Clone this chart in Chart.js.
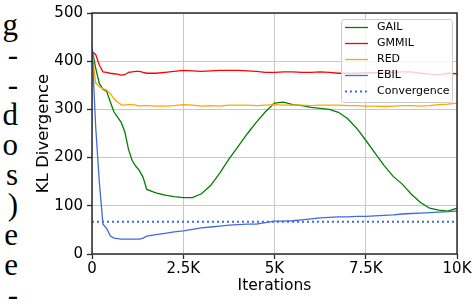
<!DOCTYPE html>
<html>
<head>
<meta charset="utf-8">
<script src="https://cdn.jsdelivr.net/npm/chart.js@4"></script>
<style>
  body { margin: 0; background: #fff; }
  #wrap { position: relative; width: 474px; height: 308px; overflow: hidden; }
  #margem { position: absolute; left: -22px; top: 10px; width: 40px; text-align: right;
            font-family: "Liberation Serif", serif; font-size: 31px; line-height: 30px; color: #000; }
  canvas { position: absolute; left: 0; top: 0; }
</style>
</head>
<body>
<div id="wrap">
  <div id="margem"></div>
  <canvas id="grafico-kl" width="474" height="308"></canvas>
</div>
<script>
// Texto cortado da página à esquerda
const textoMargem = ['g', '-', '-', 'd', 'o', 's', ')', 'e', 'e', '-'];

// Dados do gráfico
const iteracoes = [0, 100, 200, 300, 400, 500, 600, 700, 800, 900, 1000, 1100, 1200, 1300, 1400, 1500,
  1750, 2000, 2250, 2500, 2750, 3000, 3250, 3500, 3750, 4000, 4250, 4500, 4750, 5000, 5250, 5500,
  5750, 6000, 6250, 6500, 6750, 7000, 7250, 7500, 7750, 8000, 8250, 8500, 8750, 9000, 9250, 9500,
  9750, 10000];
const gail = [425, 386, 354, 342, 338, 316, 295, 284, 273, 253, 217, 194, 182, 173, 159, 134,
  127, 122, 119, 117, 117, 125, 142, 168, 197, 223, 249, 273, 295, 313, 315, 310,
  308, 304, 302, 300, 294, 281, 261, 236, 210, 184, 161, 145, 124, 107, 95, 91,
  89, 95];
const gmmil = [420, 414, 392, 378, 377, 375, 374, 373, 371, 372, 377, 378, 379, 379, 377, 375,
  375, 377, 379, 381, 380, 379, 380, 381, 381, 381, 380, 379, 377, 377, 378, 378,
  377, 377, 378, 377, 375, 375, 375, 376, 376, 377, 377, 378, 378, 375, 373, 372,
  375, 374];
const red = [420, 355, 347, 343, 340, 333, 322, 315, 310, 309, 310, 310, 309, 307, 308, 308,
  307, 307, 308, 310, 309, 307, 308, 307, 309, 309, 309, 308, 309, 310, 309, 309,
  309, 308, 309, 309, 309, 308, 308, 307, 307, 306, 307, 308, 308, 307, 308, 310,
  311, 313];
const ebil = [430, 265, 150, 62, 53, 38, 33, 32, 31, 31, 31, 31, 31, 31, 33, 37,
  40, 43, 46, 48, 51, 54, 56, 58, 60, 61, 62, 62, 65, 68, 68, 69,
  71, 73, 75, 76, 77, 77, 78, 78, 79, 80, 81, 83, 84, 85, 86, 87,
  88, 89];
const convergenciaX = [0, 10000];
const convergencia = [67, 67];
const ticksX = [0, 2500, 5000, 7500, 10000];
const rotulosX = ['0', '2.5K', '5K', '7.5K', '10K'];

document.getElementById('margem').innerHTML = textoMargem.map(t => `<div>${t}</div>`).join('');

const pontos = (xs, ys) => xs.map((x, i) => ({ x: x, y: ys[i] }));

const serie = (label, xs, ys, cor, ordem) => ({
  label: label,
  data: pontos(xs, ys),
  borderColor: cor,
  backgroundColor: cor,
  borderWidth: 1.3,
  pointRadius: 0,
  tension: 0,
  order: ordem
});

// Moldura e legenda desenhadas à maneira do matplotlib
const molduraLegenda = {
  id: 'molduraLegenda',
  afterDatasetsDraw(chart) {
    const { ctx, chartArea: a } = chart;
    ctx.save();
    ctx.strokeStyle = '#2b2b2b';
    ctx.lineWidth = 1.5;
    ctx.strokeRect(a.left, a.top, a.right - a.left, a.bottom - a.top);

    const w = 111, h = 83;
    const lx = a.right - 5 - w, ly = a.top + 6;
    ctx.beginPath();
    ctx.roundRect(lx + 0.5, ly + 0.5, w, h, 3);
    ctx.fillStyle = 'rgba(255,255,255,0.8)';
    ctx.fill();
    ctx.strokeStyle = '#cccccc';
    ctx.lineWidth = 1;
    ctx.stroke();

    ctx.font = '11px "DejaVu Sans"';
    ctx.textBaseline = 'middle';
    ctx.textAlign = 'left';
    chart.data.datasets.forEach((ds, i) => {
      const y = ly + 8.5 + i * 16;
      ctx.beginPath();
      ctx.setLineDash(ds.borderDash || []);
      ctx.lineWidth = ds.borderWidth;
      ctx.strokeStyle = ds.borderColor;
      ctx.moveTo(lx + 4, y);
      ctx.lineTo(lx + 27, y);
      ctx.stroke();
      ctx.setLineDash([]);
      ctx.fillStyle = '#000';
      ctx.fillText(ds.label, lx + 36, y);
    });
    ctx.restore();
  }
};

const conv = serie('Convergence', convergenciaX, convergencia, '#4169e1', 1);
conv.borderWidth = 2;
conv.borderDash = [2, 3];

new Chart(document.getElementById('grafico-kl'), {
  type: 'line',
  data: {
    datasets: [
      serie('GAIL', iteracoes, gail, '#008000', 5),
      serie('GMMIL', iteracoes, gmmil, '#ff0000', 4),
      serie('RED', iteracoes, red, '#ffa500', 3),
      serie('EBIL', iteracoes, ebil, '#4169e1', 2),
      conv
    ]
  },
  options: {
    responsive: false,
    devicePixelRatio: 1,
    animation: false,
    layout: { padding: { left: 0, top: 11, right: 17, bottom: 0 } },
    plugins: { legend: { display: false }, tooltip: { enabled: false } },
    scales: {
      x: {
        type: 'linear',
        min: 0,
        max: 10000,
        afterFit: s => { s.height = 54; },
        afterBuildTicks: s => { s.ticks = ticksX.map(v => ({ value: v })); },
        ticks: {
          padding: 1,
          color: '#000',
          font: { family: 'DejaVu Sans', size: 15 },
          maxRotation: 0,
          callback: (v) => rotulosX[ticksX.indexOf(v)]
        },
        grid: { color: '#c8c8c8', lineWidth: 1, tickLength: 5, tickColor: '#2b2b2b', tickWidth: 1.3 },
        border: { display: false },
        title: {
          display: true,
          text: 'Iterations',
          color: '#000',
          font: { family: 'DejaVu Sans', size: 15.5 },
          padding: { bottom: 13 }
        }
      },
      y: {
        min: 0,
        max: 500,
        afterFit: s => { s.width = 92; },
        ticks: {
          stepSize: 100,
          padding: 4,
          color: '#000',
          font: { family: 'DejaVu Sans', size: 15 }
        },
        grid: { color: '#c8c8c8', lineWidth: 1, tickLength: 5, tickColor: '#2b2b2b', tickWidth: 1.3 },
        border: { display: false },
        title: {
          display: true,
          text: 'KL Divergence',
          color: '#000',
          font: { family: 'DejaVu Sans', size: 16.5 },
          padding: { top: 34 }
        }
      }
    }
  },
  plugins: [molduraLegenda]
});
</script>
</body>
</html>
